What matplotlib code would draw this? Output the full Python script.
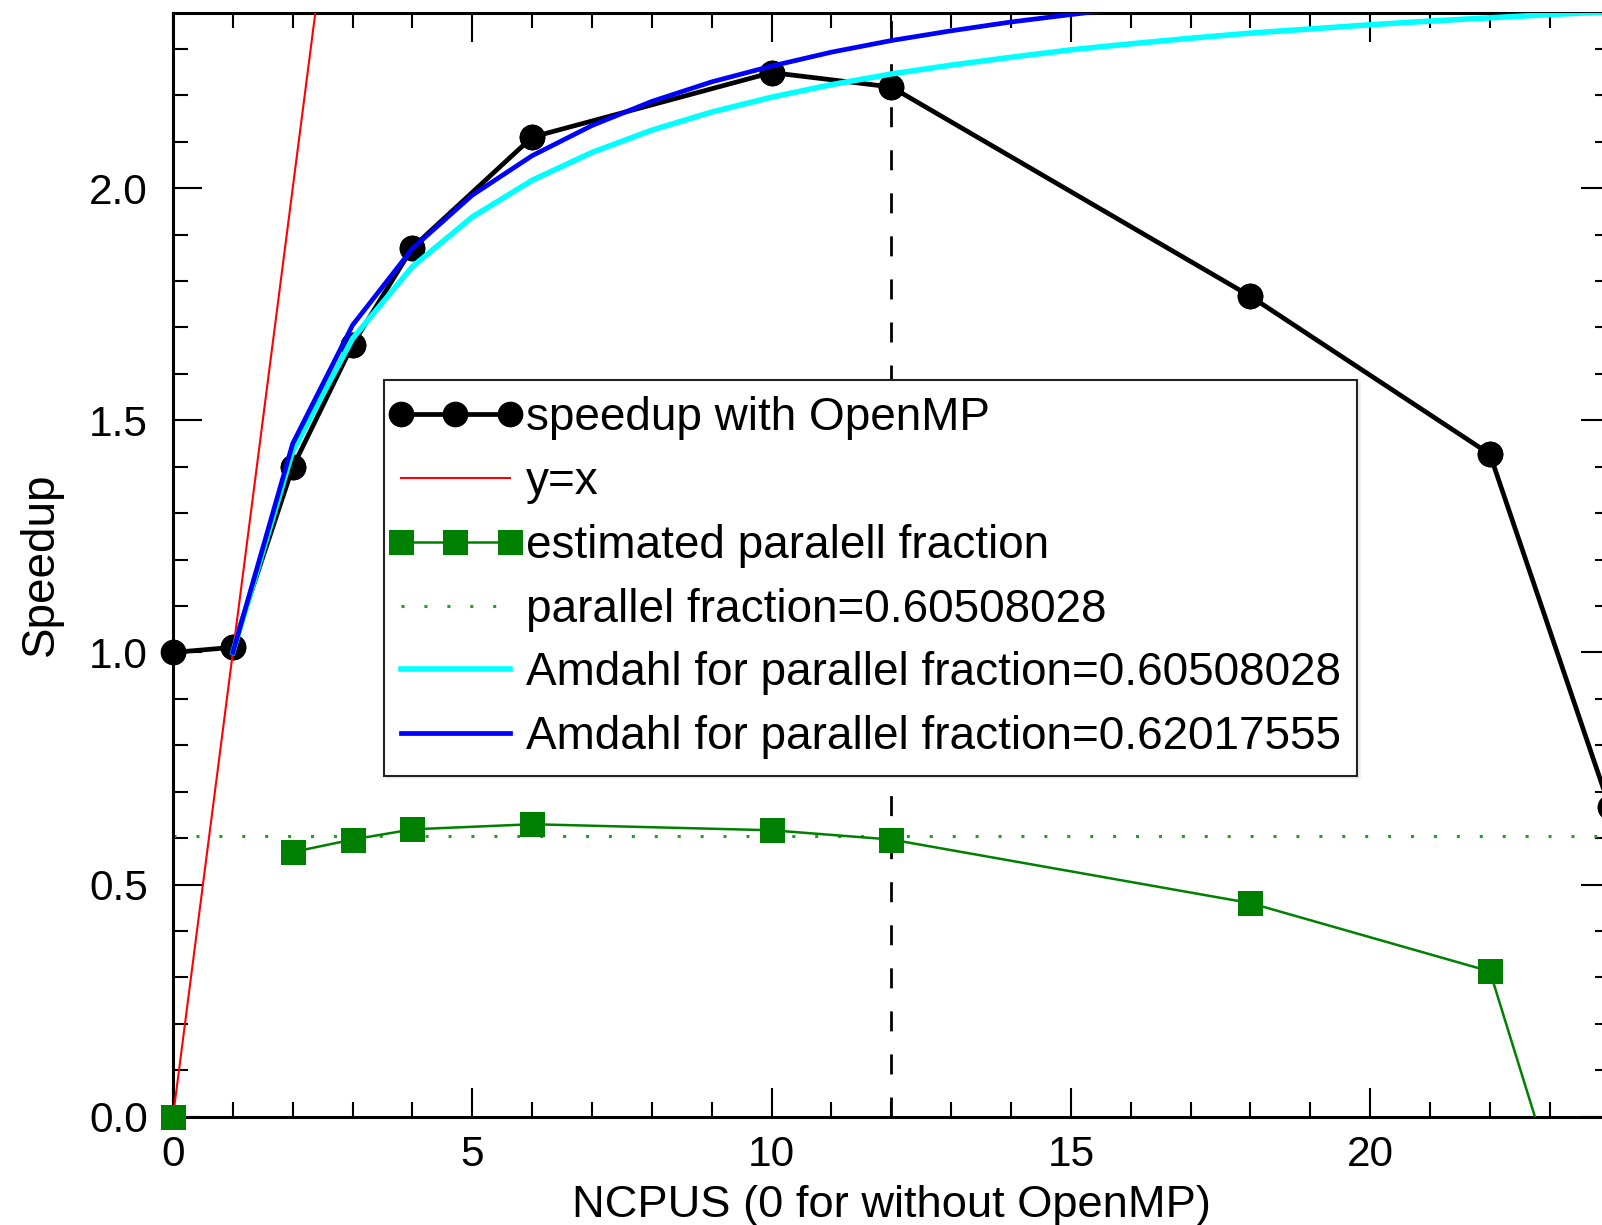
import numpy as np
import matplotlib
matplotlib.use("Agg")
import matplotlib.pyplot as plt
from matplotlib.ticker import MultipleLocator, FormatStrFormatter
from matplotlib.lines import Line2D
from matplotlib.legend_handler import HandlerLine2D

plt.rcParams['font.family'] = ['Liberation Sans', 'DejaVu Sans']

# ---- data ----
ncpus = [0, 1, 2, 3, 4, 6, 10, 12, 18, 22, 24]
speedup = [1.000, 1.011, 1.399, 1.663, 1.872, 2.110, 2.249, 2.218, 1.767, 1.427, 0.667]
par_frac = [0.0, np.nan, 0.570, 0.597, 0.619, 0.630, 0.617, 0.597, 0.460, 0.313, -0.52]

yx_x = [0, 24]
yx_y = [0, 24]

frac_const = 0.60508028
frac_fit = 0.62017555

amdahl_n = list(range(1, 25))
amdahl_cyan = [1.000, 1.434, 1.676, 1.831, 1.938, 2.017, 2.077, 2.125, 2.164, 2.196,
               2.223, 2.246, 2.265, 2.282, 2.298, 2.311, 2.323, 2.334, 2.343, 2.352,
               2.360, 2.367, 2.374, 2.380]
amdahl_blue = [1.000, 1.450, 1.705, 1.870, 1.985, 2.070, 2.135, 2.187, 2.229, 2.263,
               2.293, 2.318, 2.339, 2.358, 2.374, 2.389, 2.402, 2.414, 2.424, 2.434,
               2.443, 2.451, 2.458, 2.465]

vline_x = 12

labels = ["speedup with OpenMP", "y=x", "estimated paralell fraction",
          "parallel fraction=0.60508028",
          "Amdahl for parallel fraction=0.60508028",
          "Amdahl for parallel fraction=0.62017555"]

# ---- figure ----
W, H = 1602, 1225
fig = plt.figure(figsize=(W / 100, H / 100), dpi=100)
ax_left, ax_top, ax_bottom = 173, 12.7, 1116.7
ax_w = 24 * 59.86
ax = fig.add_axes([ax_left / W, 1 - ax_bottom / H, ax_w / W, (ax_bottom - ax_top) / H])

YMAX = 2.378
circ_ms, sq_ms = 18.5, 18.0

h1, = ax.plot(ncpus, speedup, color='black', lw=3.4, marker='o', ms=circ_ms, mew=0,
              label=labels[0], zorder=3)
# markers are not clipped at the frame
ax.plot(ncpus, speedup, ls='none', marker='o', ms=circ_ms, mew=0, color='black',
        clip_on=False, zorder=3)
h2, = ax.plot(yx_x, yx_y, color='red', lw=1.5, label=labels[1], zorder=4)
h3, = ax.plot(ncpus, par_frac, color='green', lw=1.8, marker='s', ms=sq_ms, mew=0,
              label=labels[2], zorder=4)
vis = [(x, y) for x, y in zip(ncpus, par_frac) if np.isfinite(y) and 0 <= y <= YMAX]
ax.plot([p[0] for p in vis], [p[1] for p in vis], ls='none', marker='s', ms=sq_ms,
        mew=0, color='green', clip_on=False, zorder=4)
h4 = ax.axhline(frac_const, color='#22a022', lw=2.2, linestyle=(0, (1, 6.5)),
                label=labels[3], zorder=2)
h5, = ax.plot(amdahl_n, amdahl_cyan, color='cyan', lw=4.0, label=labels[4], zorder=5)
h6, = ax.plot(amdahl_n, amdahl_blue, color='blue', lw=3.4, label=labels[5], zorder=6)
ax.axvline(vline_x, color='black', lw=2.0, linestyle=(0, (7.2, 8.3)), zorder=2)

ax.set_xlim(0, 24)
ax.set_ylim(0, YMAX)

ax.xaxis.set_major_locator(MultipleLocator(5))
ax.xaxis.set_minor_locator(MultipleLocator(1))
ax.yaxis.set_major_locator(MultipleLocator(0.5))
ax.yaxis.set_minor_locator(MultipleLocator(0.1))
ax.yaxis.set_major_formatter(FormatStrFormatter('%.1f'))

ax.tick_params(which='both', direction='in', top=True, right=True, width=1.5, color='black')
ax.tick_params(which='major', length=21)
ax.tick_params(which='minor', length=10.5)
ax.tick_params(axis='x', which='major', labelsize=30.5, pad=13)
ax.tick_params(axis='y', which='major', labelsize=30.5, pad=18)
for s in ax.spines.values():
    s.set_linewidth(2.2)

fig.text(891 / W, 1 - 1217 / H, "NCPUS (0 for without OpenMP)", fontsize=32.6,
         ha='center', va='baseline')
fig.text(41 / W, 1 - 564 / H, "Speedup", fontsize=33, rotation=90,
         ha='center', va='center')

leg = ax.legend(handles=[h1, h2, h3, h4, h5, h6], loc='upper left',
                bbox_to_anchor=(384 / W, 1 - 380 / H), bbox_transform=fig.transFigure,
                borderaxespad=0, fontsize=33, numpoints=3, handlelength=2.38,
                handletextpad=0.35, borderpad=0.36, labelspacing=0.43,
                fancybox=False, framealpha=1, edgecolor='#222222',
                shadow={'color': '#e8e8e8'},
                handler_map={Line2D: HandlerLine2D(marker_pad=0)})
leg.get_frame().set_linewidth(1.5)
leg.set_zorder(10)

fig.savefig("out.png", dpi=100)
